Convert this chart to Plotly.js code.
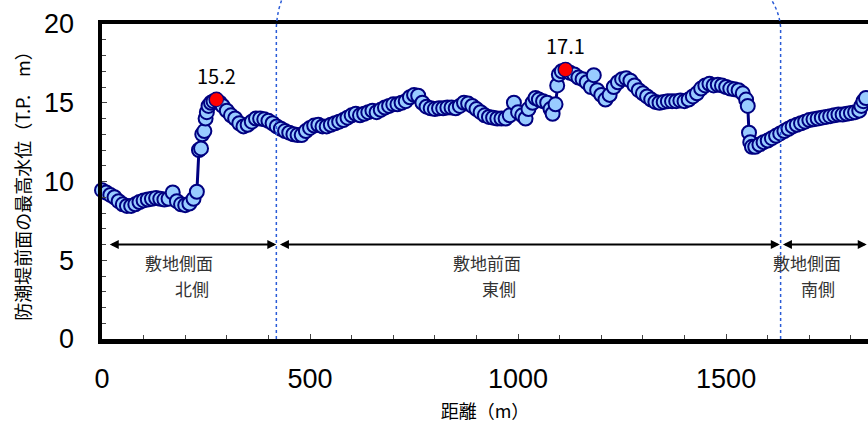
<!DOCTYPE html>
<html>
<head>
<meta charset="utf-8">
<script src="https://cdn.plot.ly/plotly-3.0.1.min.js"></script>
<style>html,body{margin:0;padding:0;background:#fff;}#chart{width:868px;height:425px;}</style>
</head>
<body>
<div id="chart"></div>
<script>
// distance along the seawall (m)
const dist = [
  0,10,20,30,40,50,60,70,80,90,
  100,110,120,130,140,150,160,170,180,190,
  200,210,220,228,233,238,241,246,249,252,
  256,262,268,275,283,290,300,310,320,330,
  340,350,360,370,380,390,400,410,420,430,
  440,450,460,470,480,490,500,510,520,530,
  540,550,560,570,580,590,600,610,620,630,
  640,650,660,670,680,690,700,710,720,730,
  740,750,760,770,780,790,800,810,820,830,
  840,850,860,870,880,890,900,910,920,930,
  940,950,960,970,980,990,1000,1010,1018,1025,
  1035,1042,1050,1060,1070,1078,1083,1090,1094,1098,
  1105,1114,1125,1135,1145,1155,1165,1175,1182,1190,
  1200,1210,1220,1230,1240,1250,1260,1270,1280,1290,
  1300,1310,1320,1330,1340,1350,1360,1370,1380,1390,
  1400,1410,1420,1430,1440,1450,1460,1470,1480,1490,
  1500,1510,1520,1530,1540,1548,1552,1555,1558,1562,
  1570,1580,1590,1600,1610,1620,1630,1640,1650,1660,
  1670,1680,1690,1700,1710,1720,1730,1740,1750,1760,
  1770,1780,1790,1800,1810,1820,1825,1830,1836,1843
];
// maximum water level in front of the seawall (T.P. m)
const level = [
  9.45,9.3,9.15,9.0,8.75,8.55,8.45,8.45,8.55,8.7,
  8.8,8.85,8.9,8.95,8.9,8.85,8.9,9.3,8.75,8.55,
  8.5,8.6,8.9,9.35,12.0,12.1,13.0,13.2,14.0,14.4,
  14.8,15.0,15.1,15.2,15.0,14.8,14.5,14.2,14.0,13.7,
  13.5,13.6,13.8,14.0,14.0,13.95,13.85,13.7,13.5,13.35,
  13.2,13.1,13.0,12.95,12.95,13.2,13.4,13.55,13.6,13.5,
  13.5,13.6,13.7,13.8,13.9,14.05,14.2,14.3,14.2,14.3,
  14.4,14.5,14.4,14.55,14.7,14.8,14.9,14.9,15.0,15.1,
  15.35,15.5,15.45,15.0,14.75,14.65,14.6,14.65,14.65,14.7,
  14.7,14.65,14.8,15.0,14.95,14.8,14.6,14.4,14.2,14.1,
  14.05,14.0,14.0,14.0,14.2,15.0,14.4,14.2,14.0,14.6,
  15.0,15.3,15.2,15.1,15.0,14.6,14.3,14.9,16.1,16.8,
  17.0,17.1,16.9,16.8,16.6,16.5,16.3,16.0,16.75,15.8,
  15.5,15.2,15.5,16.0,16.3,16.5,16.55,16.4,16.1,15.8,
  15.6,15.4,15.2,15.05,15.0,15.05,15.1,15.1,15.1,15.15,
  15.1,15.2,15.4,15.6,15.9,16.1,16.2,16.1,16.15,16.1,
  16.0,15.9,15.85,15.8,15.6,15.2,14.8,13.1,12.5,12.2,
  12.2,12.35,12.5,12.6,12.75,12.9,13.05,13.2,13.35,13.5,
  13.6,13.7,13.8,13.9,13.95,14.0,14.05,14.1,14.15,14.2,
  14.25,14.25,14.3,14.35,14.4,14.5,14.8,15.1,15.3,15.4
];
// section maxima (highlighted red)
const peakDist = [275, 1114, 1843];
const peakLevel = [15.2, 17.1, 15.4];
// section boundaries (m)
const boundaries = [419, 1631];
// section arrows
const zoneStart = [15, 424, 1633];
const zoneEnd = [419, 1629, 1838];
const zoneName1 = ['敷地側面', '敷地前面', '敷地側面'];
const zoneName2 = ['北側', '東側', '南側'];
const yTitle = '防潮堤前面の最高水位（T.P.　m）';
const xTitle = '距離（m）';

const jp = '"Noto Sans CJK JP", "Noto Sans CJK SC", sans-serif';
const num = '"Liberation Sans", Arial, sans-serif';

const traces = [
  {
    x: dist, y: level, type: 'scatter', mode: 'lines+markers',
    line: {color: '#000080', width: 3},
    marker: {size: 14, color: '#99CCFF', line: {color: '#000080', width: 2}},
    cliponaxis: false, hoverinfo: 'x+y'
  },
  {
    x: peakDist, y: peakLevel, type: 'scatter', mode: 'markers',
    marker: {size: 14, color: '#FF0000', line: {color: '#000080', width: 1}},
    cliponaxis: false, hoverinfo: 'x+y'
  }
];

const annotations = [];
// peak value labels
const labelShift = [0, 0, -36];
peakDist.forEach((d, i) => {
  annotations.push({
    x: d, y: peakLevel[i], xref: 'x', yref: 'y', text: peakLevel[i].toFixed(1),
    showarrow: false, yshift: 24, xshift: labelShift[i],
    font: {family: jp, size: 20, color: '#000'}
  });
});
// double-headed section arrows at level 6
zoneStart.forEach((s, i) => {
  annotations.push({
    x: zoneEnd[i], y: 6, ax: s, ay: 6, xref: 'x', yref: 'y', axref: 'x', ayref: 'y',
    text: '', showarrow: true, arrowside: 'end+start',
    arrowhead: 2, startarrowhead: 2, arrowsize: 0.9, startarrowsize: 0.9,
    arrowwidth: 2, arrowcolor: '#000', standoff: 0, startstandoff: 0
  });
});
// section names (two lines, second line indented)
const name1X = [185, 925, 1695];
const name2X = [217, 955, 1722];
zoneName1.forEach((t, i) => {
  annotations.push({x: name1X[i], y: 4.83, xref: 'x', yref: 'y', text: t, showarrow: false,
    font: {family: jp, size: 17, color: '#333'}});
  annotations.push({x: name2X[i], y: 3.22, xref: 'x', yref: 'y', text: zoneName2[i], showarrow: false,
    font: {family: jp, size: 17, color: '#333'}});
});

// dotted boundary lines, bending at the top
const bend = [14, -24];
const shapes = boundaries.map((b, i) => ({
  type: 'path', xref: 'x', yref: 'paper', layer: 'above',
  path: `M ${b} 0 L ${b} 0.99 Q ${b + bend[i] * 0.15} 1.04 ${b + bend[i]} 1.08`,
  line: {color: '#2a5bd7', width: 1.5, dash: 'dot'}
}));

const layout = {
  width: 868, height: 425,
  margin: {l: 102, r: 0, t: 24, b: 86},
  paper_bgcolor: '#fff', plot_bgcolor: '#fff',
  showlegend: false,
  xaxis: {
    range: [0, 1841], showgrid: false, zeroline: false,
    showline: true, linecolor: '#000', linewidth: 4.5, mirror: true,
    ticks: 'inside', ticklen: 5, tickwidth: 1, tickcolor: '#444',
    tick0: 0, dtick: 500,
    minor: {dtick: 100, ticks: 'inside', ticklen: 4, tickcolor: '#444', showgrid: false},
    tickfont: {family: num, size: 27, color: '#000'},
    ticklabelstandoff: 12,
    title: {text: xTitle, font: {family: jp, size: 18, color: '#000'}, standoff: 14}
  },
  yaxis: {
    range: [0, 20], showgrid: false, zeroline: false,
    showline: true, linecolor: '#000', linewidth: 4.5, mirror: true,
    ticks: 'inside', ticklen: 5, tickwidth: 1, tickcolor: '#444',
    tick0: 0, dtick: 5,
    minor: {dtick: 1, ticks: 'inside', ticklen: 4, tickcolor: '#444', showgrid: false},
    tickfont: {family: num, size: 27, color: '#000'},
    ticklabelstandoff: 18,
    title: {text: yTitle, font: {family: jp, size: 18, color: '#000'}, standoff: 10}
  },
  annotations: annotations,
  shapes: shapes
};

Plotly.newPlot('chart', traces, layout, {displayModeBar: false, staticPlot: true});
</script>
</body>
</html>
